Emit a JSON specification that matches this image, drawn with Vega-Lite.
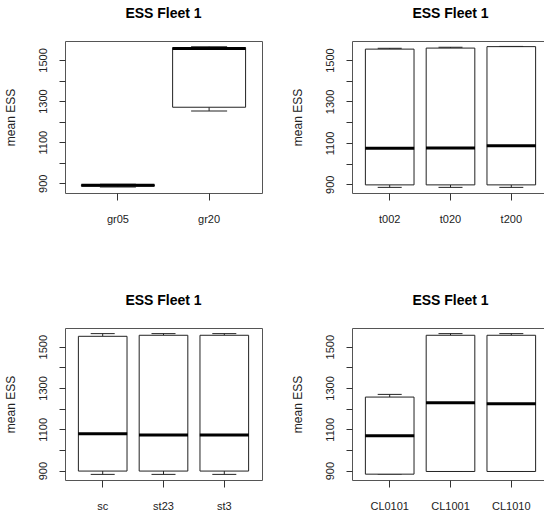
{
  "$schema": "https://vega.github.io/schema/vega-lite/v6.json",
  "padding": {"left": 3, "top": 6, "right": -6, "bottom": 0},
  "background": "white",
  "bounds": "flush",
  "columns": 2,
  "spacing": {"row": 135, "column": 90},
  "datasets": {
    "box": [
      {"panel": "A", "group": "gr05", "min": 882, "q1": 886, "median": 890, "q3": 893, "max": 895},
      {"panel": "A", "group": "gr20", "min": 1252, "q1": 1270, "median": 1556, "q3": 1560, "max": 1565},
      {"panel": "B", "group": "t002", "min": 885, "q1": 897, "median": 1074, "q3": 1553, "max": 1557},
      {"panel": "B", "group": "t020", "min": 885, "q1": 897, "median": 1075, "q3": 1558, "max": 1562},
      {"panel": "B", "group": "t200", "min": 885, "q1": 897, "median": 1086, "q3": 1565, "max": 1566},
      {"panel": "C", "group": "sc", "min": 882, "q1": 898, "median": 1079, "q3": 1550, "max": 1563},
      {"panel": "C", "group": "st23", "min": 882, "q1": 898, "median": 1072, "q3": 1555, "max": 1563},
      {"panel": "C", "group": "st3", "min": 882, "q1": 898, "median": 1072, "q3": 1555, "max": 1563},
      {"panel": "D", "group": "CL0101", "min": 883, "q1": 883, "median": 1069, "q3": 1256, "max": 1269},
      {"panel": "D", "group": "CL1001", "min": 896, "q1": 896, "median": 1228, "q3": 1555, "max": 1563},
      {"panel": "D", "group": "CL1010", "min": 896, "q1": 896, "median": 1224, "q3": 1555, "max": 1563}
    ]
  },
  "config": {
    "font": "Liberation Sans",
    "view": {"stroke": "#555", "strokeWidth": 1},
    "tick": {"opacity": 1},
    "title": {"fontSize": 14, "fontWeight": "bold", "color": "#000", "offset": 20, "anchor": "middle"},
    "axis": {
      "labelFont": "Liberation Sans",
      "titleFont": "Liberation Sans",
      "labelFontSize": 11,
      "labelColor": "#222",
      "tickColor": "#333",
      "domain": false,
      "grid": false
    },
    "axisY": {
      "labelAngle": 270,
      "labelAlign": "center",
      "labelBaseline": "bottom",
      "labelPadding": 11,
      "tickSize": 6,
      "titleFontSize": 12,
      "titleFontWeight": "normal",
      "titleColor": "#222",
      "titlePadding": 20
    },
    "axisX": {
      "labelAngle": 0,
      "labelBaseline": "top",
      "labelPadding": 13,
      "tickSize": 7
    }
  },
  "concat": [
    {
      "width": 197, "height": 152,
      "title": "ESS Fleet 1",
      "data": {"name": "box"},
      "transform": [{"filter": "datum.panel == 'A'"}],
      "encoding": {
        "x": {"field": "group", "type": "nominal", "sort": null, "title": null,
              "scale": {"paddingInner": 0.2, "paddingOuter": 0.18}},
        "y": {"type": "quantitative", "scale": {"domain": [852.6, 1592.4], "nice": false, "zero": false},
              "axis": {"title": "mean ESS", "values": [900, 1000, 1100, 1200, 1300, 1400, 1500],
                       "labelExpr": "datum.value % 200 == 100 ? datum.label : ''", "format": "d", "labelOverlap": false, "labelFlush": false}}
      },
      "layer": [
        {"mark": {"type": "rule", "color": "#222", "strokeDash": [4, 4]}, "encoding": {"y": {"field": "min", "type": "quantitative"}, "y2": {"field": "q1"}}},
        {"mark": {"type": "rule", "color": "#222", "strokeDash": [4, 4]}, "encoding": {"y": {"field": "q3", "type": "quantitative"}, "y2": {"field": "max"}}},
        {"mark": {"type": "tick", "color": "#222", "opacity": 1, "size": 36, "thickness": 1, "orient": "horizontal"}, "encoding": {"y": {"field": "min", "type": "quantitative"}}},
        {"mark": {"type": "tick", "color": "#222", "opacity": 1, "size": 36, "thickness": 1, "orient": "horizontal"}, "encoding": {"y": {"field": "max", "type": "quantitative"}}},
        {"mark": {"type": "bar", "fill": "white", "stroke": "#222", "strokeWidth": 1}, "encoding": {"y": {"field": "q1", "type": "quantitative"}, "y2": {"field": "q3"}}},
        {"mark": {"type": "tick", "color": "#000", "opacity": 1, "size": 73, "thickness": 3, "orient": "horizontal"}, "encoding": {"y": {"field": "median", "type": "quantitative"}}}
      ]
    },
    {
      "width": 197, "height": 152,
      "title": "ESS Fleet 1",
      "data": {"name": "box"},
      "transform": [{"filter": "datum.panel == 'B'"}],
      "encoding": {
        "x": {"field": "group", "type": "nominal", "sort": null, "title": null,
              "scale": {"paddingInner": 0.2, "paddingOuter": 0.22}},
        "y": {"type": "quantitative", "scale": {"domain": [857.8, 1592.2], "nice": false, "zero": false},
              "axis": {"title": "mean ESS", "values": [900, 1000, 1100, 1200, 1300, 1400, 1500],
                       "labelExpr": "datum.value % 200 == 100 ? datum.label : ''", "format": "d", "labelOverlap": false, "labelFlush": false}}
      },
      "layer": [
        {"mark": {"type": "rule", "color": "#222", "strokeDash": [4, 4]}, "encoding": {"y": {"field": "min", "type": "quantitative"}, "y2": {"field": "q1"}}},
        {"mark": {"type": "rule", "color": "#222", "strokeDash": [4, 4]}, "encoding": {"y": {"field": "q3", "type": "quantitative"}, "y2": {"field": "max"}}},
        {"mark": {"type": "tick", "color": "#222", "opacity": 1, "size": 24, "thickness": 1, "orient": "horizontal"}, "encoding": {"y": {"field": "min", "type": "quantitative"}}},
        {"mark": {"type": "tick", "color": "#222", "opacity": 1, "size": 24, "thickness": 1, "orient": "horizontal"}, "encoding": {"y": {"field": "max", "type": "quantitative"}}},
        {"mark": {"type": "bar", "fill": "white", "stroke": "#222", "strokeWidth": 1}, "encoding": {"y": {"field": "q1", "type": "quantitative"}, "y2": {"field": "q3"}}},
        {"mark": {"type": "tick", "color": "#000", "opacity": 1, "size": 49, "thickness": 3, "orient": "horizontal"}, "encoding": {"y": {"field": "median", "type": "quantitative"}}}
      ]
    },
    {
      "width": 197, "height": 152,
      "title": "ESS Fleet 1",
      "data": {"name": "box"},
      "transform": [{"filter": "datum.panel == 'C'"}],
      "encoding": {
        "x": {"field": "group", "type": "nominal", "sort": null, "title": null,
              "scale": {"paddingInner": 0.2, "paddingOuter": 0.22}},
        "y": {"type": "quantitative", "scale": {"domain": [854.8, 1590.2], "nice": false, "zero": false},
              "axis": {"title": "mean ESS", "values": [900, 1000, 1100, 1200, 1300, 1400, 1500],
                       "labelExpr": "datum.value % 200 == 100 ? datum.label : ''", "format": "d", "labelOverlap": false, "labelFlush": false}}
      },
      "layer": [
        {"mark": {"type": "rule", "color": "#222", "strokeDash": [4, 4]}, "encoding": {"y": {"field": "min", "type": "quantitative"}, "y2": {"field": "q1"}}},
        {"mark": {"type": "rule", "color": "#222", "strokeDash": [4, 4]}, "encoding": {"y": {"field": "q3", "type": "quantitative"}, "y2": {"field": "max"}}},
        {"mark": {"type": "tick", "color": "#222", "opacity": 1, "size": 24, "thickness": 1, "orient": "horizontal"}, "encoding": {"y": {"field": "min", "type": "quantitative"}}},
        {"mark": {"type": "tick", "color": "#222", "opacity": 1, "size": 24, "thickness": 1, "orient": "horizontal"}, "encoding": {"y": {"field": "max", "type": "quantitative"}}},
        {"mark": {"type": "bar", "fill": "white", "stroke": "#222", "strokeWidth": 1}, "encoding": {"y": {"field": "q1", "type": "quantitative"}, "y2": {"field": "q3"}}},
        {"mark": {"type": "tick", "color": "#000", "opacity": 1, "size": 49, "thickness": 3, "orient": "horizontal"}, "encoding": {"y": {"field": "median", "type": "quantitative"}}}
      ]
    },
    {
      "width": 197, "height": 152,
      "title": "ESS Fleet 1",
      "data": {"name": "box"},
      "transform": [{"filter": "datum.panel == 'D'"}],
      "encoding": {
        "x": {"field": "group", "type": "nominal", "sort": null, "title": null,
              "scale": {"paddingInner": 0.2, "paddingOuter": 0.22}},
        "y": {"type": "quantitative", "scale": {"domain": [854.8, 1590.2], "nice": false, "zero": false},
              "axis": {"title": "mean ESS", "values": [900, 1000, 1100, 1200, 1300, 1400, 1500],
                       "labelExpr": "datum.value % 200 == 100 ? datum.label : ''", "format": "d", "labelOverlap": false, "labelFlush": false}}
      },
      "layer": [
        {"mark": {"type": "rule", "color": "#222", "strokeDash": [4, 4]}, "encoding": {"y": {"field": "min", "type": "quantitative"}, "y2": {"field": "q1"}}},
        {"mark": {"type": "rule", "color": "#222", "strokeDash": [4, 4]}, "encoding": {"y": {"field": "q3", "type": "quantitative"}, "y2": {"field": "max"}}},
        {"mark": {"type": "tick", "color": "#222", "opacity": 1, "size": 24, "thickness": 1, "orient": "horizontal"}, "encoding": {"y": {"field": "min", "type": "quantitative"}}},
        {"mark": {"type": "tick", "color": "#222", "opacity": 1, "size": 24, "thickness": 1, "orient": "horizontal"}, "encoding": {"y": {"field": "max", "type": "quantitative"}}},
        {"mark": {"type": "bar", "fill": "white", "stroke": "#222", "strokeWidth": 1}, "encoding": {"y": {"field": "q1", "type": "quantitative"}, "y2": {"field": "q3"}}},
        {"mark": {"type": "tick", "color": "#000", "opacity": 1, "size": 49, "thickness": 3, "orient": "horizontal"}, "encoding": {"y": {"field": "median", "type": "quantitative"}}}
      ]
    }
  ]
}
